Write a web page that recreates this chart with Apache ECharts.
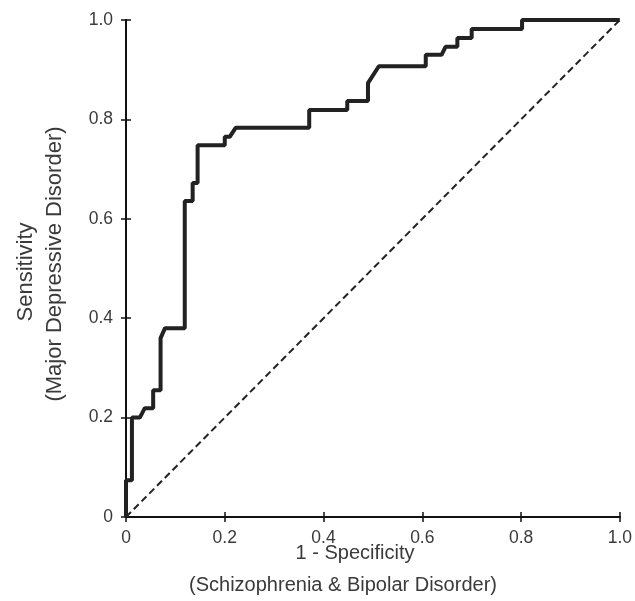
<!DOCTYPE html>
<html>
<head>
<meta charset="utf-8">
<script src="https://cdn.jsdelivr.net/npm/echarts@6/dist/echarts.min.js"></script>
<style>
  html, body { margin: 0; padding: 0; background: #fff; }
  #chart { width: 635px; height: 601px; }
</style>
</head>
<body>
<div id="chart"></div>
<script>
// ROC curve
const fpr = [0, 0, 0.012, 0.012, 0.028, 0.038, 0.055, 0.055, 0.07, 0.07, 0.079, 0.119,
  0.119, 0.135, 0.135, 0.145, 0.145, 0.2, 0.2, 0.21, 0.222, 0.371, 0.371, 0.448,
  0.448, 0.49, 0.49, 0.512, 0.607, 0.607, 0.639, 0.647, 0.671, 0.671, 0.7, 0.7,
  0.802, 0.802, 1.0];
const tpr = [0, 0.074, 0.074, 0.2, 0.2, 0.219, 0.219, 0.255, 0.255, 0.36, 0.38, 0.38,
  0.636, 0.636, 0.672, 0.672, 0.748, 0.748, 0.765, 0.765, 0.783, 0.783, 0.819, 0.819,
  0.837, 0.837, 0.873, 0.907, 0.907, 0.93, 0.93, 0.946, 0.946, 0.964, 0.964, 0.982,
  0.982, 1.0, 1.0];
const chanceX = [0, 1];
const chanceY = [0, 1];

const textColor = "#3a3a3a";
const fmt = (v) => (v === 0 ? "0" : v.toFixed(1));

const chart = echarts.init(document.getElementById("chart"));

const baseAxis = {
  type: "value",
  min: 0,
  max: 1,
  interval: 0.2,
  axisLine: { show: true, lineStyle: { color: "#111", width: 2 } },
  axisTick: { show: true, inside: true, length: 5, lineStyle: { color: "#111", width: 1.5 } },
  splitLine: { show: false },
};

chart.setOption({
  animation: false,
  grid: { left: 126, right: 13, top: 20, bottom: 84 },
  xAxis: [
    {
      ...baseAxis,
      position: "bottom",
      axisLabel: { formatter: fmt, color: textColor, fontSize: 17.5, margin: 12, fontFamily: "Liberation Sans" },
    },
    { ...baseAxis, position: "top", axisLabel: { show: false } },
  ],
  yAxis: [
    {
      ...baseAxis,
      position: "left",
      axisLabel: { formatter: fmt, color: textColor, fontSize: 17.5, margin: 13, fontFamily: "Liberation Sans" },
    },
    { ...baseAxis, position: "right", axisLabel: { show: false } },
  ],
  series: [
    {
      type: "line",
      data: chanceX.map((x, i) => [x, chanceY[i]]),
      showSymbol: false,
      lineStyle: { color: "#222", width: 2, type: [7, 4] },
      z: 2,
    },
    {
      type: "line",
      data: fpr.map((x, i) => [x, tpr[i]]),
      showSymbol: false,
      lineStyle: { color: "#222", width: 4 },
      z: 3,
    },
  ],
  graphic: [
    {
      type: "text",
      x: 355,
      y: 553,
      style: { text: "1 - Specificity", fill: textColor, font: "20px 'Liberation Sans'", align: "center", verticalAlign: "middle" },
    },
    {
      type: "text",
      x: 343,
      y: 585,
      style: { text: "(Schizophrenia & Bipolar Disorder)", fill: textColor, font: "20px 'Liberation Sans'", align: "center", verticalAlign: "middle" },
    },
    {
      type: "text",
      x: 26,
      y: 272,
      rotation: Math.PI / 2,
      style: { text: "Sensitivity", fill: textColor, font: "22px 'Liberation Sans'", align: "center", verticalAlign: "middle" },
    },
    {
      type: "text",
      x: 55,
      y: 264,
      rotation: Math.PI / 2,
      style: { text: "(Major Depressive Disorder)", fill: textColor, font: "22px 'Liberation Sans'", align: "center", verticalAlign: "middle" },
    },
  ],
});
</script>
</body>
</html>
